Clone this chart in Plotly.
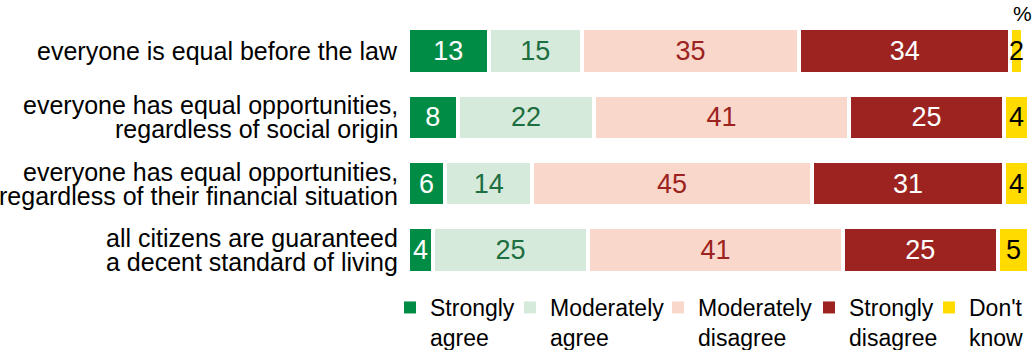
import plotly.graph_objects as go

categories = [
    "everyone is equal before the law",
    "everyone has equal opportunities,<br>regardless of social origin",
    "everyone has equal opportunities,<br>regardless of their financial situation",
    "all citizens are guaranteed<br>a decent standard of living",
]
series_names = ["Strongly<br>agree", "Moderately<br>agree", "Moderately<br>disagree",
                "Strongly<br>disagree", "Don't<br>know"]
strongly_agree = [13, 8, 6, 4]
moderately_agree = [15, 22, 14, 25]
moderately_disagree = [35, 41, 45, 41]
strongly_disagree = [34, 25, 31, 25]
dont_know = [2, 4, 4, 5]

series_values = [strongly_agree, moderately_agree, moderately_disagree,
                 strongly_disagree, dont_know]
bar_colors = ["#008c45", "#d6eadb", "#f9d8cb", "#9c2320", "#ffdb00"]
text_colors = ["#ffffff", "#1d6e40", "#9c2320", "#ffffff", "#000000"]
legend_text_x = [430, 550, 698, 849, 969]  # px of legend text start

FONT = "Liberation Sans, Arial, sans-serif"
W, H = 1034, 350
ML, MR, MT, MB = 408, 5, 18, 67
PW = W - ML - MR
PH = H - MT - MB
LINE = 24  # label line spacing in px

fig = go.Figure()
for i, (name, vals) in enumerate(zip(series_names, series_values)):
    lg = "legend" if i == 0 else f"legend{i+1}"
    fig.add_trace(go.Bar(
        orientation="h", y=categories, x=vals, name=name,
        marker=dict(color=bar_colors[i], line=dict(color="white", width=4)),
        text=[str(v) for v in vals], textposition="inside",
        insidetextanchor="middle", textangle=0, constraintext="none",
        textfont=dict(color=text_colors[i], size=27, family=FONT),
        cliponaxis=False, showlegend=False, legendgroup=str(i), legend=lg,
        hoverinfo="x+y",
    ))
    # legend entry (symbol without white gap stroke)
    fig.add_trace(go.Bar(
        orientation="h", y=[None], x=[None], name=name,
        marker=dict(color=bar_colors[i], line=dict(width=0)),
        showlegend=True, legendgroup=str(i), legend=lg, hoverinfo="skip",
    ))

layout_legends = {}
for i, tx in enumerate(legend_text_x):
    key = "legend" if i == 0 else f"legend{i+1}"
    layout_legends[key] = dict(
        x=(tx - 40 - ML) / PW, xanchor="left",
        y=(MT + PH - 286) / PH, yanchor="top",
        orientation="h", valign="top",
        font=dict(size=23, family=FONT, color="#000000"),
        bgcolor="rgba(0,0,0,0)", borderwidth=0,
    )

# category labels, one annotation per line (tight line spacing)
annotations = []
for cat in categories:
    lines = cat.split("<br>")
    n = len(lines)
    for k, ln in enumerate(lines):
        annotations.append(dict(
            text=ln, xref="paper", yref="y", x=0, y=cat,
            xanchor="right", yanchor="middle", xshift=-8,
            yshift=-(k - (n - 1) / 2) * LINE, showarrow=False,
            font=dict(size=25, family=FONT, color="#000000")))
annotations.append(dict(text="%", xref="paper", yref="paper",
                        x=(1022 - ML) / PW, y=1 + MT / PH,
                        xanchor="center", yanchor="top", showarrow=False,
                        font=dict(size=21, family=FONT, color="#000000")))

fig.update_layout(
    width=W, height=H,
    margin=dict(l=ML, r=MR, t=MT, b=MB, autoexpand=False),
    barmode="stack", bargap=0.31,
    plot_bgcolor="white", paper_bgcolor="white",
    font=dict(family=FONT, size=22, color="#000000"),
    xaxis=dict(range=[0, 100], visible=False, fixedrange=True),
    yaxis=dict(autorange="reversed", showgrid=False, zeroline=False,
               showline=False, ticks="", showticklabels=False),
    annotations=annotations,
    **layout_legends,
)

fig.write_html("out.html")
